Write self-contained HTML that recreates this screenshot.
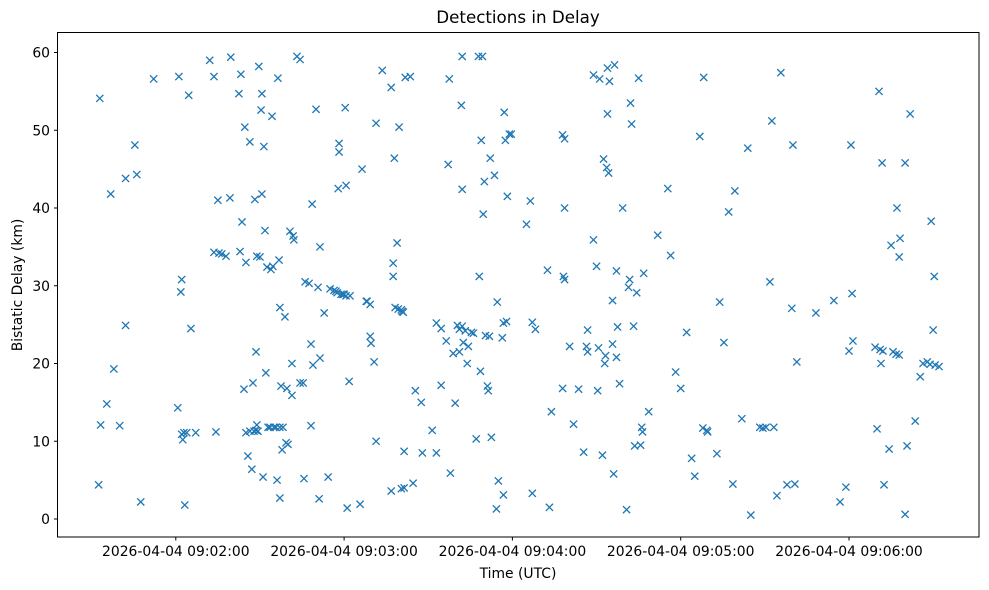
<!DOCTYPE html>
<html><head><meta charset="utf-8"><style>
html,body{margin:0;padding:0;background:#fff;}
svg{display:block;font-family:"DejaVu Sans","Liberation Sans",sans-serif;}
</style></head><body>
<svg id="chart" width="989" height="590" viewBox="0 0 989 590" xmlns="http://www.w3.org/2000/svg">
<rect x="0" y="0" width="989" height="590" fill="#fff"/>
<text x="518" y="23" font-size="16.7" text-anchor="middle">Detections in Delay</text>
<g id="marks"></g>
<g id="axes"></g>
<rect x="57.5" y="32.5" width="921.5" height="504.5" fill="none" stroke="#000" stroke-width="1"/>
<text x="518" y="578" font-size="13.9" text-anchor="middle">Time (UTC)</text>
<text transform="translate(22,285) rotate(-90)" font-size="13.9" text-anchor="middle">Bistatic Delay (km)</text>
</svg>
<script>
// seconds after 09:02:00
const times = [-27.5,-27.1,-26.8,-24.6,-23.2,-22.1,-20.0,-17.9,-17.9,-14.6,-13.9,-12.5,-7.9,0.7,1.1,1.8,2.1,2.1,2.5,2.9,3.2,3.9,4.6,5.4,7.1,12.1,13.6,14.3,15.0,13.6,15.4,16.4,17.9,19.3,19.6,22.5,22.9,23.2,23.6,24.3,24.6,25.0,25.0,25.7,26.4,26.4,27.1,27.5,27.9,28.2,28.6,28.6,28.9,28.9,29.3,29.6,30.0,30.4,30.7,30.7,31.1,31.4,31.8,32.1,32.5,32.9,33.6,33.9,34.3,34.6,35.0,35.7,36.1,36.4,36.8,37.1,37.1,37.1,37.5,37.9,38.2,38.9,39.3,39.6,40.0,40.7,41.4,41.4,41.8,42.1,43.2,44.3,44.3,45.4,45.7,46.1,47.5,48.2,48.2,48.6,48.9,50.0,50.7,51.1,51.4,51.4,52.9,54.3,55.0,56.4,57.1,57.5,57.9,58.2,58.2,58.9,59.6,60.0,60.4,60.7,60.7,61.1,61.8,62.1,65.7,66.4,67.9,68.2,69.3,69.3,69.6,70.7,71.4,71.4,73.6,76.8,76.8,77.5,77.5,77.9,78.2,78.9,79.3,79.6,80.4,80.4,80.7,81.1,81.4,81.4,81.8,83.6,84.6,85.4,87.5,87.9,91.4,92.9,92.9,94.6,94.6,96.4,97.1,97.5,97.9,98.9,99.6,100.4,101.1,101.1,101.8,102.1,102.1,102.1,102.5,103.2,103.9,104.3,105.4,106.1,107.1,107.9,108.2,108.6,108.9,109.3,109.6,110.0,110.4,111.1,111.4,111.8,112.1,112.5,113.6,114.3,114.6,115.0,116.4,116.8,116.8,117.1,117.5,117.9,118.2,118.9,119.6,125.0,126.4,127.1,127.1,128.2,132.5,133.2,133.9,137.9,137.9,138.2,138.6,138.6,138.6,140.4,141.8,143.6,145.4,146.4,146.8,146.8,148.9,148.9,150.0,150.4,150.7,151.1,152.1,152.5,152.9,153.2,153.6,153.9,153.9,154.3,154.6,155.7,155.7,156.1,156.4,157.1,157.1,157.5,158.2,159.3,160.7,161.4,161.8,162.1,162.5,163.2,163.6,164.3,165.0,165.7,166.1,166.4,166.8,168.6,171.8,175.4,176.4,178.2,180.0,182.1,183.9,185.0,186.8,187.9,188.2,189.3,189.6,192.9,193.9,195.4,197.1,198.6,199.3,201.8,203.9,205.0,208.2,209.3,210.4,211.8,212.5,213.2,214.3,215.7,217.9,219.6,220.0,220.7,221.4,228.2,234.6,236.8,238.9,240.0,240.7,241.1,241.4,249.3,250.0,250.7,251.1,251.4,251.8,252.1,252.5,254.3,255.0,255.7,256.8,257.1,257.9,257.9,258.2,260.0,260.0,260.7,261.8,263.6,265.4,266.4,267.9,268.9,269.3,270.0,270.4,270.7,272.1];
const delays = [4.4,54.1,12.1,14.8,41.8,19.3,12.0,24.9,43.8,48.1,44.3,2.2,56.6,14.3,56.9,29.2,30.8,10.9,10.2,11.1,1.8,11.1,54.5,24.5,11.1,59.0,56.9,11.2,41.0,34.3,34.2,34.1,33.8,41.3,59.4,54.7,34.4,57.2,38.2,16.7,50.4,33.0,11.1,8.1,48.5,11.3,6.4,17.5,11.3,41.1,11.4,21.5,33.8,12.1,11.3,58.2,33.7,52.6,54.7,41.8,5.4,47.9,37.1,18.8,32.4,11.8,11.8,32.1,51.8,32.5,11.8,11.8,5.0,56.7,33.3,11.8,27.2,2.7,17.1,8.9,11.8,26.0,9.8,16.8,9.6,37.0,15.9,20.0,36.4,35.9,59.5,59.1,17.5,17.5,5.2,30.5,30.3,12.0,22.5,40.5,19.8,52.7,29.8,2.6,20.7,35.0,26.5,5.4,29.6,29.4,29.3,29.1,42.5,47.2,48.3,28.9,28.9,28.9,52.9,42.9,28.7,1.4,17.7,28.7,1.9,45.0,28.0,28.0,27.6,23.5,22.6,20.2,50.9,10.0,57.7,55.5,3.6,32.9,31.2,46.4,27.2,35.5,27.0,50.4,26.9,3.9,26.7,26.6,8.7,4.0,56.8,56.9,4.6,16.5,15.0,8.5,11.4,8.5,25.2,24.5,17.2,22.9,45.6,56.6,5.9,21.3,14.9,24.9,21.5,24.4,53.2,24.8,59.5,42.4,22.7,24.2,20.0,22.2,24.0,23.9,10.3,59.5,31.2,19.0,48.7,59.5,39.2,43.4,23.6,17.1,16.5,23.5,46.4,10.5,44.2,1.3,27.9,4.9,23.3,3.1,25.2,52.3,48.7,25.4,41.5,49.5,49.5,37.9,40.9,25.3,3.3,24.4,32.0,1.5,13.8,16.8,49.4,31.2,48.9,40.0,30.8,22.2,12.2,16.7,8.6,22.2,24.3,21.5,35.9,57.1,32.5,16.5,22.0,56.6,8.2,46.3,20.0,21.0,45.2,52.1,58.0,44.5,56.3,22.5,28.1,5.8,58.4,20.8,31.9,24.7,17.4,40.0,1.2,29.8,30.8,53.5,50.8,24.8,9.4,29.1,56.7,9.5,11.8,11.2,31.6,13.8,36.5,42.5,33.9,18.9,16.8,24.0,7.8,5.5,49.2,11.7,56.8,11.4,11.2,8.4,27.9,22.7,39.5,4.5,42.2,12.9,47.7,0.5,11.8,11.7,11.8,30.5,51.2,11.8,3.0,57.4,4.4,27.1,48.1,4.5,20.2,26.5,28.1,2.2,4.1,21.6,48.1,29.0,22.9,22.1,11.6,55.0,21.8,20.0,45.8,21.6,4.4,9.0,35.2,21.5,21.2,40.0,33.7,21.1,36.1,45.8,0.6,9.4,52.1,12.6,18.3,20.0,20.2,19.9,38.3,24.3,31.2,19.8,19.6];
const xTickSeconds = [0,60,120,180,240];
const xTickLabels = ["2026-04-04 09:02:00","2026-04-04 09:03:00","2026-04-04 09:04:00","2026-04-04 09:05:00","2026-04-04 09:06:00"];
const yTicks = [0,10,20,30,40,50,60];

const NS = "http://www.w3.org/2000/svg";
function xScale(s){ return 175.8 + s * (168.3/60); }
function yScale(d){ return 519 - d * 7.775; }

const marks = document.getElementById('marks');
const n = Math.min(times.length, delays.length);
for (let i = 0; i < n; i++) {
  const cx = xScale(times[i]), cy = yScale(delays[i]), r = 3.6;
  const p = document.createElementNS(NS, 'path');
  p.setAttribute('d', `M${cx-r},${cy-r}L${cx+r},${cy+r}M${cx-r},${cy+r}L${cx+r},${cy-r}`);
  p.setAttribute('stroke', '#1f77b4');
  p.setAttribute('stroke-width', '1.3');
  p.setAttribute('fill', 'none');
  
  
  marks.appendChild(p);
}

const axes = document.getElementById('axes');
xTickSeconds.forEach((s, i) => {
  const x = xScale(s);
  const t = document.createElementNS(NS, 'line');
  t.setAttribute('x1', x); t.setAttribute('x2', x);
  t.setAttribute('y1', 537); t.setAttribute('y2', 540.5);
  t.setAttribute('stroke', '#000');
  
  
  axes.appendChild(t);
  const l = document.createElementNS(NS, 'text');
  l.setAttribute('x', x); l.setAttribute('y', 556);
  l.setAttribute('font-size', '13.9'); l.setAttribute('text-anchor', 'middle');
  l.textContent = xTickLabels[i];
  
  
  axes.appendChild(l);
});
yTicks.forEach(v => {
  const y = yScale(v);
  const t = document.createElementNS(NS, 'line');
  t.setAttribute('x1', 54); t.setAttribute('x2', 57.5);
  t.setAttribute('y1', y); t.setAttribute('y2', y);
  t.setAttribute('stroke', '#000');
  
  
  axes.appendChild(t);
  const l = document.createElementNS(NS, 'text');
  l.setAttribute('x', 50); l.setAttribute('y', y + 5);
  l.setAttribute('font-size', '13.9'); l.setAttribute('text-anchor', 'end');
  l.textContent = String(v);
  
  
  axes.appendChild(l);
});
</script>
</body></html>
